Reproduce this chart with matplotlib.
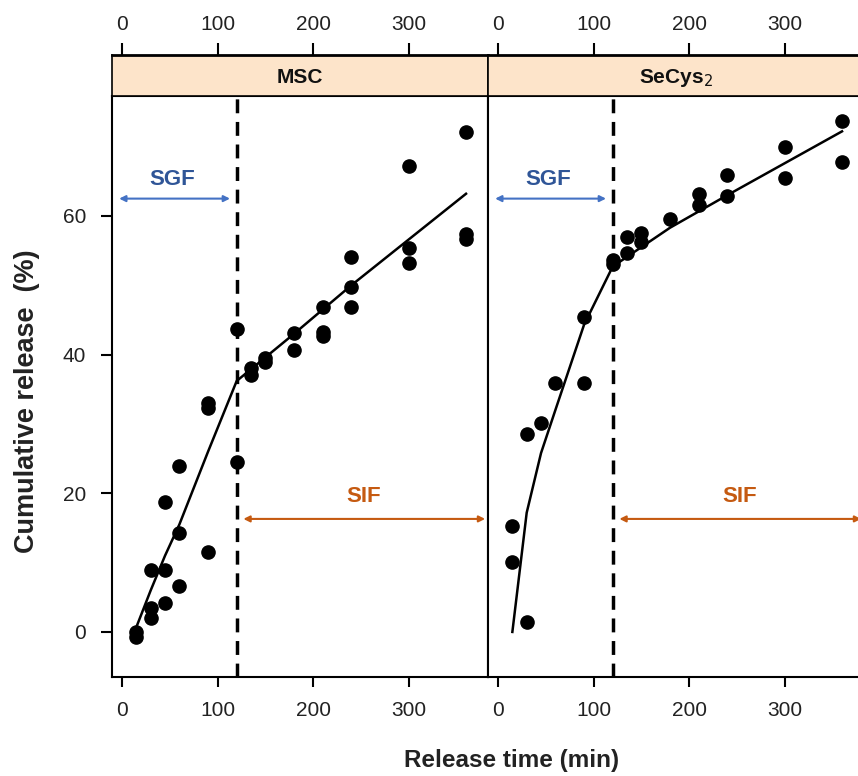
import matplotlib
matplotlib.use("Agg")
import matplotlib.pyplot as plt
from matplotlib import font_manager

names = {f.name for f in font_manager.fontManager.ttflist}
NARROW = 'Liberation Sans Narrow' if 'Liberation Sans Narrow' in names else 'Liberation Sans'
plt.rcParams['font.family'] = [NARROW, 'DejaVu Sans']

# ---- data ----
panels = ["MSC", "SeCys$_2$"]
msc_x = [15, 15, 30, 30, 30, 45, 45, 45, 60, 60, 60, 90, 90, 90, 120, 120, 135, 135,
         150, 150, 180, 180, 210, 210, 210, 240, 240, 240, 300, 300, 300, 360, 360, 360]
msc_y = [0.0, -0.7, 9.0, 3.5, 2.0, 9.0, 4.2, 18.8, 14.3, 24.0, 6.6, 33.0, 32.3, 11.5,
         43.7, 24.5, 38.1, 37.1, 39.5, 39.0, 43.1, 40.7, 46.9, 43.3, 42.7, 54.1, 49.8, 46.9,
         67.2, 55.4, 53.2, 72.1, 57.4, 56.7]
msc_fit_x = [15, 30, 45, 60, 90, 120, 180, 240, 300, 360]
msc_fit_y = [0.7, 6.0, 11.0, 15.5, 26.0, 36.2, 43.0, 50.0, 56.6, 63.2]

sec_x = [15, 15, 30, 30, 45, 60, 90, 90, 120, 120, 135, 135, 150, 150, 180, 210, 210,
         240, 240, 300, 300, 360, 360]
sec_y = [15.3, 10.1, 1.4, 28.6, 30.2, 35.9, 35.9, 45.4, 53.7, 53.0, 54.7, 57.0, 56.3, 57.6,
         59.6, 61.6, 63.2, 62.9, 65.9, 65.5, 70.0, 67.8, 73.7]
sec_fit_x = [15, 30, 45, 60, 90, 120, 180, 240, 300, 360]
sec_fit_y = [0.0, 17.2, 25.8, 32.0, 44.3, 52.7, 58.3, 63.0, 67.6, 72.2]

xticks = [0, 100, 200, 300]
yticks = [0, 20, 40, 60]
cutoff = 120

W, H = 858, 776
fig = plt.figure(figsize=(W / 100, H / 100), dpi=100)
PT = 72 / 100  # points per pixel

def fx(px):
    return px / W

def fy(py):
    return 1 - py / H

plot_top, plot_bot = 96, 677
strip_top = 55
lefts = [112, 488]
width = 376

data = [(msc_x, msc_y, msc_fit_x, msc_fit_y), (sec_x, sec_y, sec_fit_x, sec_fit_y)]
xlim = (-10.5, 383)
ylim = (-6.5, 77.3)
tickfont = dict(family=['Liberation Sans', 'DejaVu Sans'], size=15, color='#222222')

for i, (lx, (px_, py_, fxv, fyv)) in enumerate(zip(lefts, data)):
    ax = fig.add_axes([fx(lx), fy(plot_bot), width / W, (plot_bot - plot_top) / H])
    ax.set_xlim(*xlim)
    ax.set_ylim(*ylim)
    ax.plot(fxv, fyv, color='black', lw=1.8, zorder=3)
    ax.plot(px_, py_, 'o', color='black', ms=9.5, zorder=4)
    ax.axvline(cutoff, color='black', lw=2.5, ls=(0, (4, 2.5)), zorder=2)
    # SGF
    ax.annotate('', xy=(-3, 62.5), xytext=(113, 62.5),
                arrowprops=dict(arrowstyle='<|-|>', color='#4472C4', lw=1.5,
                                mutation_scale=9, shrinkA=0, shrinkB=0))
    ax.text(53, 65.3, 'SGF', color='#2F5597', fontsize=16, fontweight='bold',
            ha='center', va='center', family=[NARROW, 'DejaVu Sans'])
    # SIF
    ax.annotate('', xy=(127, 16.3), xytext=(380, 16.3),
                arrowprops=dict(arrowstyle='<|-|>', color='#C55A11', lw=1.5,
                                mutation_scale=9, shrinkA=0, shrinkB=0))
    ax.text(253, 19.6, 'SIF', color='#C55A11', fontsize=16, fontweight='bold',
            ha='center', va='center', family=[NARROW, 'DejaVu Sans'])
    ax.set_xticks(xticks)
    ax.set_xticklabels([str(t) for t in xticks], **tickfont)
    ax.tick_params(axis='x', direction='out', length=10 * PT, width=1.5, pad=14 * PT)
    if i == 0:
        ax.set_yticks(yticks)
        ax.set_yticklabels([str(t) for t in yticks], **tickfont)
        ax.tick_params(axis='y', direction='out', length=11 * PT, width=1.5, pad=15 * PT)
    else:
        ax.set_yticks([])
    for s in ax.spines.values():
        s.set_linewidth(1.5)
    # strip
    st = fig.add_axes([fx(lx), fy(plot_top), width / W, (plot_top - strip_top) / H])
    st.set_facecolor('#FDE4CA')
    st.set_xlim(*xlim)
    st.set_ylim(0, 1)
    st.set_yticks([])
    st.xaxis.tick_top()
    st.set_xticks(xticks)
    st.set_xticklabels([str(t) for t in xticks], **tickfont)
    st.tick_params(axis='x', direction='out', length=12 * PT, width=1.5, pad=9 * PT)
    for s in st.spines.values():
        s.set_linewidth(1.2)
    st.spines['top'].set_linewidth(2)
    st.text(0.5, 0.45, panels[i], transform=st.transAxes, ha='center',
            va='center', fontsize=15, fontweight='bold', color='#111111')

fig.text(fx(512), fy(760), 'Release time (min)', ha='center', va='center',
         fontsize=17.5, fontweight='bold', color='#222222')
fig.text(fx(27), fy(401), 'Cumulative release  (%)', ha='center', va='center',
         rotation=90, fontsize=19.5, fontweight='bold', color='#222222')

fig.savefig('out.png', dpi=100)
